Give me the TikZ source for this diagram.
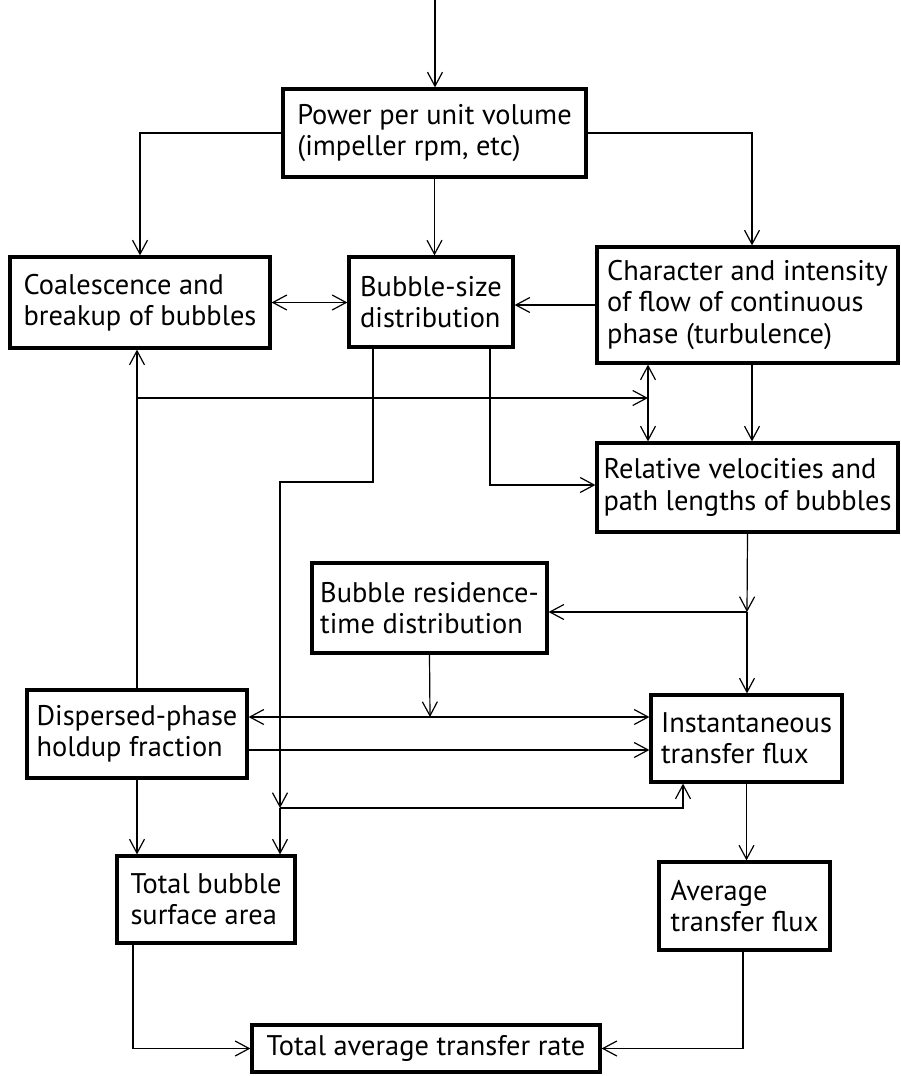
\documentclass[tikz,border=0pt]{standalone}
\usepackage{fontspec}
\setmainfont{PT Sans}
\usetikzlibrary{arrows.meta}
\begin{document}
\begin{tikzpicture}[x=0.5pt,y=-0.5pt,
  >={Straight Barb[length=7pt,width=7.5pt]},
  box/.style={draw, line width=1.6pt, inner sep=0pt, align=left,
              font=\fontsize{14.2}{15.6}\selectfont},
  link/.style={line width=0.6pt}]
\useasboundingbox (0,0) rectangle (900,1076);

% boxes
\node[box, minimum width=151.5pt, minimum height=44pt] (power) at (434.5,133)
  {Power per unit volume\\(impeller rpm, etc)};
\node[box, minimum width=130pt, minimum height=45.5pt] (coal) at (140,302.5)
  {Coalescence and\\breakup of bubbles};
\node[box, minimum width=82pt, minimum height=45pt] (bsd) at (431,302)
  {Bubble-size\\distribution};
\node[box, minimum width=150.5pt, minimum height=58pt] (char) at (747.5,305)
  {Character and intensity\\of flow of continuous\\phase (turbulence)};
\node[box, minimum width=150.5pt, minimum height=44.5pt] (rel) at (747.5,487.5)
  {Relative velocities and\\path lengths of bubbles};
\node[box, minimum width=117.5pt, minimum height=45pt] (res) at (429.5,608)
  {Bubble residence-\\time distribution};
\node[box, minimum width=110pt, minimum height=44pt] (disp) at (137,734)
  {Dispersed-phase\\holdup fraction};
\node[box, minimum width=95.5pt, minimum height=43.5pt] (inst) at (746.5,738.5)
  {Instantaneous\\transfer flux};
\node[box, minimum width=89pt, minimum height=43.5pt] (tba) at (206,899.5)
  {Total bubble\\surface area};
\node[box, minimum width=85.5pt, minimum height=44pt] (avg) at (744.5,906)
  {Average\\transfer flux};
\node[box, minimum width=174pt, minimum height=23.5pt] (total) at (426,1048.5)
  {Total average transfer rate};

% helper points for routing
\coordinate (top) at (435,0);
\coordinate (hb) at (137,398);
\coordinate (hv) at (648,398);
\coordinate (cr) at (752,0);
\coordinate (b1) at (373,482);
\coordinate (b2) at (280,482);
\coordinate (jsa) at (280,808);
\coordinate (ji) at (683,808);
\coordinate (b3) at (490,485);
\coordinate (jr) at (747,612);
\coordinate (jt) at (430,717);
\coordinate (hl) at (0,717);
\coordinate (hl2) at (0,750);
\coordinate (tb) at (133,0);
\coordinate (ab) at (743,0);

% connectors
\draw[link,->] (top) -- (top |- power.north);
\draw[link,->] (power.west) -| (coal.north);
\draw[link,->] (power.south) -- (power.south |- bsd.north);
\draw[link,->] (power.east) -| (char.north -| cr);
\draw[link,<->] (coal.east) -- (coal.east -| bsd.west);
\draw[link,->] (char.west) -- (char.west -| bsd.east);

\draw[link,->] (disp.north) -- (disp.north |- coal.south);
\draw[link,->] (hb) -- (hv);
\draw[link,<->] (char.south -| hv) -- (rel.north -| hv);
\draw[link,->] (char.south -| cr) -- (rel.north -| cr);

\draw[link,->] (bsd.south -| b1) -- (b1) -- (b2) -- (jsa);
\draw[link,->] (jsa) -- (jsa |- tba.north);
\draw[link,->] (jsa) -- (ji) -- (ji |- inst.south);
\draw[link,->] (bsd.south -| b3) -- (b3) -- (b3 -| rel.west);

\draw[link,->] (rel.south) -- (jr);
\draw[link,->] (jr) -- (jr -| res.east);
\draw[link,->] (jr) -- (jr |- inst.north);

\draw[link,->] (res.south) -- (jt);
\draw[link,<->] (hl -| disp.east) -- (hl -| inst.west);
\draw[link,->] (hl2 -| disp.east) -- (hl2 -| inst.west);

\draw[link,->] (disp.south) -- (disp.south |- tba.north);
\draw[link,->] (inst.south) -- (inst.south |- avg.north);
\draw[link,->] (tba.south -| tb) |- (total.west);
\draw[link,->] (avg.south -| ab) |- (total.east);
\end{tikzpicture}
\end{document}
